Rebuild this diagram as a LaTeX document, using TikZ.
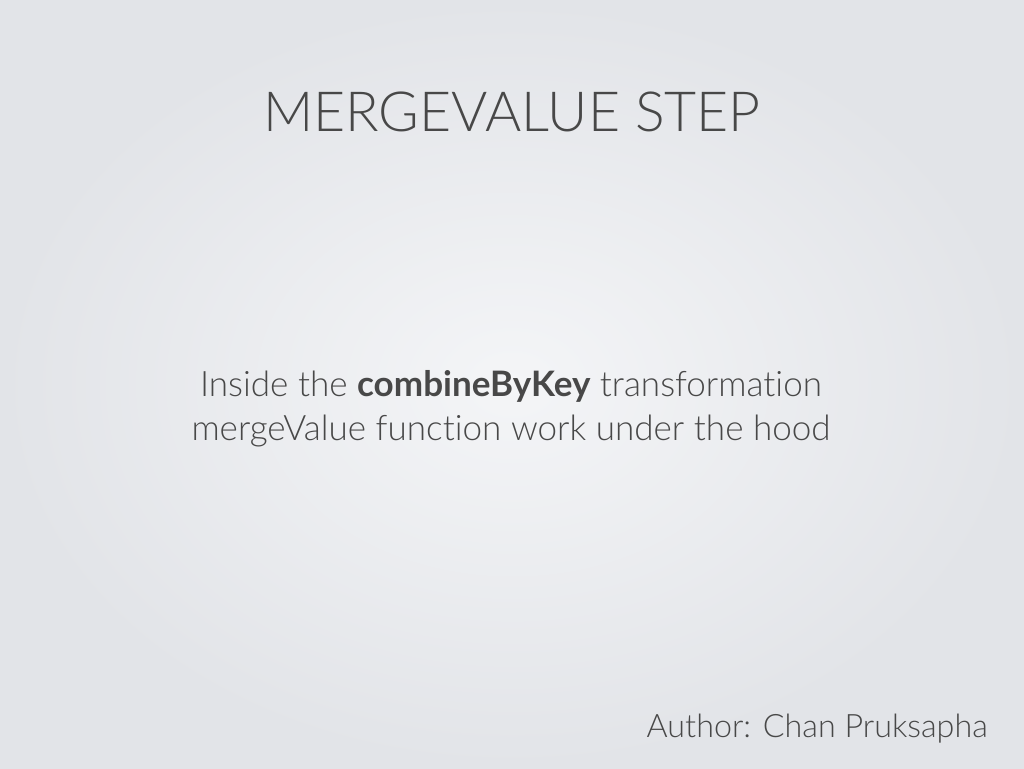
\documentclass[tikz,border=0pt]{standalone}
\usepackage{fontspec}
\setmainfont{Lato Light}[Ligatures=NoCommon,BoldFont={Lato Bold}]
\definecolor{txt}{HTML}{484848}
\definecolor{bgin}{HTML}{F4F5F7}
\definecolor{bgout}{HTML}{E2E4E8}
\begin{document}
\begin{tikzpicture}[x=0.75pt,y=-0.75pt,
  slidetext/.style={text=txt,inner sep=0pt,anchor=base}]
\shade[inner color=bgin,outer color=bgout] (0,0) rectangle (1024,768);
\useasboundingbox (0,0) rectangle (1024,768);
\node[slidetext,font=\fontsize{41.5}{48}\selectfont] (title) at (512,131) {MERGEVALUE STEP};
\node[slidetext,font=\fontsize{26.3}{33}\selectfont,align=center] (body) at (511,440)
  {Inside the \textbf{combineByKey} transformation\\mergeValue function work under the hood};
\node[slidetext,font=\fontsize{24.2}{30}\selectfont,anchor=base east] (author) at (988,737) {Author: Chan Pruksapha};
\end{tikzpicture}
\end{document}
